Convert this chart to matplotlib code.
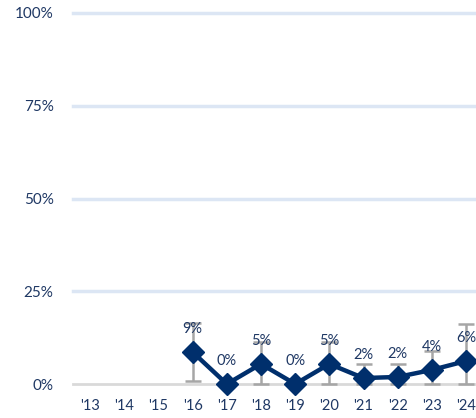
import matplotlib.pyplot as plt
from matplotlib.ticker import PercentFormatter

years = ["'13", "'14", "'15", "'16", "'17", "'18", "'19", "'20", "'21", "'22", "'23", "'24"]
# values in %, None where no data
values = [None, None, None, 8.6, 0.0, 5.4, 0.0, 5.4, 1.6, 1.9, 3.8, 6.2]
err_low = [None, None, None, 7.8, 0.0, 5.4, 0.0, 5.4, 1.6, 1.9, 3.8, 6.2]
err_high = [None, None, None, 7.8, 0.0, 6.0, 0.0, 6.0, 3.7, 3.4, 5.2, 10.0]
labels = ['', '', '', '9%', '0%', '5%', '0%', '5%', '2%', '2%', '4%', '6%']

NAVY = '#002f6c'
TEXT = '#1f3864'
GRID = '#dce6f4'
plt.rcParams['font.family'] = ['Lato', 'DejaVu Sans']

fig = plt.figure(figsize=(4.76, 4.18), dpi=100)
ax = fig.add_axes([73 / 476, 34 / 418, 1 - 73 / 476, (384 - 13) / 418])

idx = [i for i, v in enumerate(values) if v is not None]
xs = idx
ys = [values[i] / 100 for i in idx]
lo = [err_low[i] / 100 for i in idx]
hi = [err_high[i] / 100 for i in idx]

ax.errorbar(xs, ys, yerr=[lo, hi], fmt='none', ecolor='#a6a6a6',
            elinewidth=1.8, capsize=5.5, capthick=1.8, zorder=3, clip_on=False)
ax.plot(xs, ys, color=NAVY, lw=3.2, marker='D', markersize=11,
        zorder=4, clip_on=False)
for i in idx:
    if labels[i]:
        ax.annotate(labels[i], (i, values[i] / 100), xytext=(0, 16.5),
                    textcoords='offset points', ha='center', va='center',
                    fontsize=10.5, color=TEXT, zorder=5)

ax.set_xlim(-0.5, 11.29)
ax.set_ylim(0, 1)
ax.set_yticks([0, 0.25, 0.5, 0.75, 1.0])
ax.yaxis.set_major_formatter(PercentFormatter(1.0, decimals=0))
ax.set_xticks(range(len(years)))
ax.set_xticklabels(years)
ax.tick_params(axis='y', length=0, pad=14, labelsize=11, labelcolor=TEXT)
ax.tick_params(axis='x', length=0, pad=11, labelsize=10.5, labelcolor=TEXT)
for y in [0.25, 0.5, 0.75, 1.0]:
    ax.axhline(y, color=GRID, lw=2.5, zorder=1, clip_on=False)
ax.axhline(0, color='#d9d9d9', lw=2, zorder=2, clip_on=False)
for s in ax.spines.values():
    s.set_visible(False)

fig.savefig('out.png', dpi=100)
